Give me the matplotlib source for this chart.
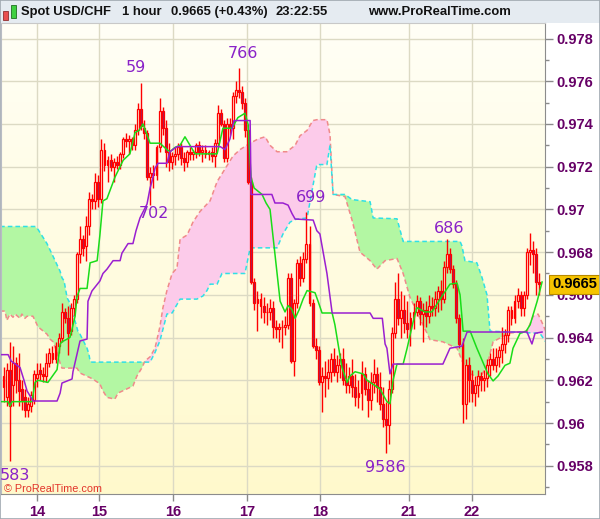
import matplotlib
matplotlib.use('Agg')
import matplotlib.pyplot as plt
import matplotlib.transforms as mtransforms
import numpy as np
from matplotlib.colors import LinearSegmentedColormap
from matplotlib.patches import Rectangle

# Spot USD/CHF, 1 hour -- candles (bar index = hour slot)
OPEN = [0.9617, 0.9612, 0.9625, 0.9618, 0.9628, 0.9620, 0.9616, 0.9612, 0.9606, 0.9608,
        0.9611, 0.9621, 0.9625, 0.9623, 0.9622, 0.9628, 0.9633, 0.9630, 0.9636, 0.9640,
        0.9652, 0.9649, 0.9643, 0.9654, 0.9658, 0.9679, 0.9686, 0.9683, 0.9692, 0.9705,
        0.9704, 0.9713, 0.9705, 0.9728, 0.9721, 0.9723, 0.9720, 0.9722, 0.9721, 0.9726,
        0.9733, 0.9732, 0.9733, 0.9730, 0.9737, 0.9747, 0.9738, 0.9736, 0.9715, 0.9717,
        0.9716, 0.9729, 0.9746, 0.9738, 0.9727, 0.9722, 0.9725, 0.9726, 0.9729, 0.9724,
        0.9722, 0.9727, 0.9726, 0.9727, 0.9730, 0.9727, 0.9728, 0.9726, 0.9727, 0.9725,
        0.9731, 0.9745, 0.9740, 0.9724, 0.9740, 0.9738, 0.9753, 0.9756, 0.9755, 0.9750,
        0.9737, 0.9713, 0.9666, 0.9656, 0.9658, 0.9655, 0.9652, 0.9652, 0.9654, 0.9645,
        0.9644, 0.9645, 0.9645, 0.9646, 0.9668, 0.9629, 0.9656, 0.9675, 0.9668, 0.9677,
        0.9684, 0.9656, 0.9636, 0.9634, 0.9619, 0.9622, 0.9621, 0.9624, 0.9630, 0.9624,
        0.9627, 0.9630, 0.9620, 0.9618, 0.9622, 0.9617, 0.9612, 0.9614, 0.9623, 0.9616,
        0.9611, 0.9619, 0.9623, 0.9617, 0.9609, 0.9602, 0.9599, 0.9616, 0.9642, 0.9658,
        0.9649, 0.9653, 0.9647, 0.9644, 0.9649, 0.9652, 0.9657, 0.9651, 0.9653, 0.9650,
        0.9655, 0.9654, 0.9658, 0.9662, 0.9658, 0.9673, 0.9679, 0.9672, 0.9665, 0.9649,
        0.9637, 0.9609, 0.9627, 0.9620, 0.9614, 0.9618, 0.9622, 0.9620, 0.9621, 0.9627,
        0.9630, 0.9627, 0.9631, 0.9634, 0.9637, 0.9641, 0.9653, 0.9649, 0.9657, 0.9660,
        0.9654, 0.9660, 0.9680, 0.9681, 0.9679, 0.9666]
HIGH = [0.9626, 0.9628, 0.9638, 0.9636, 0.9631, 0.9633, 0.9620, 0.9616, 0.9612, 0.9615,
        0.9625, 0.9628, 0.9628, 0.9626, 0.9633, 0.9635, 0.9636, 0.9638, 0.9642, 0.9656,
        0.9654, 0.9655, 0.9656, 0.9660, 0.9680, 0.9692, 0.9688, 0.9697, 0.9708, 0.9707,
        0.9717, 0.9716, 0.9733, 0.9731, 0.9725, 0.9726, 0.9724, 0.9725, 0.9727, 0.9734,
        0.9736, 0.9735, 0.9734, 0.9740, 0.9750, 0.9759, 0.9742, 0.9737, 0.9720, 0.9721,
        0.9730, 0.9752, 0.9748, 0.9742, 0.9731, 0.9727, 0.9729, 0.9731, 0.9731, 0.9727,
        0.9728, 0.9729, 0.9728, 0.9731, 0.9732, 0.9730, 0.9730, 0.9728, 0.9729, 0.9733,
        0.9749, 0.9747, 0.9742, 0.9743, 0.9743, 0.9755, 0.9760, 0.9766, 0.9758, 0.9752,
        0.9740, 0.9715, 0.9668, 0.9662, 0.9661, 0.9659, 0.9656, 0.9658, 0.9657, 0.9648,
        0.9647, 0.9648, 0.9650, 0.9670, 0.9670, 0.9658, 0.9677, 0.9678, 0.9680, 0.9699,
        0.9692, 0.9658, 0.9640, 0.9636, 0.9626, 0.9629, 0.9630, 0.9633, 0.9635, 0.9632,
        0.9633, 0.9635, 0.9628, 0.9626, 0.9630, 0.9623, 0.9620, 0.9629, 0.9626, 0.9620,
        0.9624, 0.9630, 0.9626, 0.9624, 0.9617, 0.9610, 0.9620, 0.9645, 0.9666, 0.9670,
        0.9662, 0.9660, 0.9657, 0.9652, 0.9656, 0.9660, 0.9659, 0.9656, 0.9657, 0.9660,
        0.9659, 0.9662, 0.9664, 0.9667, 0.9676, 0.9686, 0.9682, 0.9674, 0.9667, 0.9651,
        0.9640, 0.9630, 0.9631, 0.9625, 0.9622, 0.9625, 0.9624, 0.9625, 0.9630, 0.9633,
        0.9635, 0.9635, 0.9636, 0.9645, 0.9644, 0.9655, 0.9655, 0.9660, 0.9663, 0.9662,
        0.9662, 0.9682, 0.9689, 0.9685, 0.9682, 0.9670]
LOW = [0.9610, 0.9608, 0.9582, 0.9608, 0.9614, 0.9608, 0.9606, 0.9603, 0.9603, 0.9605,
       0.9609, 0.9617, 0.9620, 0.9619, 0.9619, 0.9626, 0.9628, 0.9628, 0.9633, 0.9638,
       0.9647, 0.9632, 0.9641, 0.9650, 0.9656, 0.9675, 0.9678, 0.9676, 0.9688, 0.9700,
       0.9700, 0.9701, 0.9703, 0.9718, 0.9713, 0.9718, 0.9713, 0.9719, 0.9719, 0.9724,
       0.9729, 0.9726, 0.9728, 0.9728, 0.9735, 0.9737, 0.9733, 0.9714, 0.9702, 0.9710,
       0.9714, 0.9727, 0.9735, 0.9720, 0.9718, 0.9719, 0.9721, 0.9723, 0.9721, 0.9718,
       0.9720, 0.9723, 0.9723, 0.9724, 0.9725, 0.9722, 0.9724, 0.9723, 0.9722, 0.9720,
       0.9729, 0.9739, 0.9722, 0.9722, 0.9735, 0.9733, 0.9750, 0.9752, 0.9747, 0.9734,
       0.9712, 0.9665, 0.9653, 0.9643, 0.9649, 0.9647, 0.9646, 0.9648, 0.9640, 0.9640,
       0.9638, 0.9635, 0.9641, 0.9644, 0.9628, 0.9622, 0.9654, 0.9664, 0.9666, 0.9675,
       0.9655, 0.9635, 0.9630, 0.9618, 0.9605, 0.9612, 0.9616, 0.9619, 0.9622, 0.9619,
       0.9621, 0.9618, 0.9614, 0.9614, 0.9612, 0.9608, 0.9607, 0.9606, 0.9613, 0.9603,
       0.9606, 0.9614, 0.9610, 0.9606, 0.9598, 0.9586, 0.9590, 0.9614, 0.9640, 0.9646,
       0.9640, 0.9642, 0.9640, 0.9636, 0.9644, 0.9650, 0.9646, 0.9638, 0.9645, 0.9647,
       0.9650, 0.9650, 0.9652, 0.9653, 0.9656, 0.9670, 0.9670, 0.9663, 0.9647, 0.9635,
       0.9600, 0.9602, 0.9610, 0.9610, 0.9608, 0.9612, 0.9615, 0.9615, 0.9617, 0.9622,
       0.9625, 0.9624, 0.9626, 0.9628, 0.9633, 0.9638, 0.9646, 0.9647, 0.9654, 0.9650,
       0.9650, 0.9658, 0.9674, 0.9670, 0.9660, 0.9660]
CLOSE = [0.9622, 0.9625, 0.9608, 0.9628, 0.9620, 0.9615, 0.9611, 0.9606, 0.9609, 0.9613,
         0.9623, 0.9623, 0.9623, 0.9622, 0.9628, 0.9633, 0.9630, 0.9636, 0.9640, 0.9652,
         0.9649, 0.9642, 0.9654, 0.9658, 0.9679, 0.9686, 0.9682, 0.9692, 0.9705, 0.9704,
         0.9713, 0.9705, 0.9728, 0.9721, 0.9723, 0.9720, 0.9722, 0.9721, 0.9726, 0.9733,
         0.9732, 0.9733, 0.9730, 0.9737, 0.9747, 0.9739, 0.9736, 0.9715, 0.9717, 0.9716,
         0.9729, 0.9746, 0.9738, 0.9727, 0.9722, 0.9725, 0.9726, 0.9729, 0.9724, 0.9722,
         0.9727, 0.9726, 0.9727, 0.9730, 0.9727, 0.9728, 0.9726, 0.9727, 0.9725, 0.9731,
         0.9745, 0.9740, 0.9724, 0.9740, 0.9738, 0.9753, 0.9756, 0.9755, 0.9750, 0.9737,
         0.9713, 0.9666, 0.9656, 0.9658, 0.9655, 0.9652, 0.9652, 0.9654, 0.9645, 0.9644,
         0.9645, 0.9645, 0.9646, 0.9668, 0.9629, 0.9656, 0.9675, 0.9668, 0.9677, 0.9684,
         0.9656, 0.9636, 0.9634, 0.9619, 0.9622, 0.9621, 0.9624, 0.9630, 0.9624, 0.9627,
         0.9630, 0.9620, 0.9618, 0.9622, 0.9617, 0.9612, 0.9614, 0.9623, 0.9616, 0.9611,
         0.9619, 0.9623, 0.9617, 0.9609, 0.9602, 0.9599, 0.9616, 0.9642, 0.9658, 0.9649,
         0.9653, 0.9647, 0.9644, 0.9649, 0.9652, 0.9657, 0.9651, 0.9653, 0.9650, 0.9655,
         0.9654, 0.9658, 0.9662, 0.9658, 0.9673, 0.9679, 0.9672, 0.9665, 0.9649, 0.9637,
         0.9609, 0.9627, 0.9620, 0.9614, 0.9618, 0.9622, 0.9620, 0.9621, 0.9627, 0.9630,
         0.9627, 0.9631, 0.9634, 0.9637, 0.9641, 0.9653, 0.9649, 0.9657, 0.9660, 0.9654,
         0.9660, 0.9680, 0.9681, 0.9679, 0.9666, 0.9665]

# Ichimoku lines, vertices (x = bar index)
TENKAN_X = [-1.1, 1.5, 2.1, 2.8, 9.3, 10.3, 11.3, 14.5, 17.5, 18.5, 19.1, 21.7, 22.4, 23.4, 24, 25,
            27.3, 28.3, 30.6, 31.5, 32.5, 33.8, 36.4, 37.4, 39.1, 41.3, 43, 44.3, 45.6, 47.9, 51.1,
            53.4, 54.4, 56, 57.7, 59.3, 62.6, 69.8, 71.7, 74.7, 76.6, 78.9, 79.9, 80.9, 81.9, 84.5,
            85.8, 87.1, 90.4, 92, 93, 94.3, 95.3, 96.6, 97.9, 99.2, 101.8, 102.8, 104.1, 107.4,
            108.3, 110.6, 112.3, 113.2, 114.9, 117.5, 118.8, 123, 125.3, 126.3, 127.3, 128.6, 130.6,
            131.9, 133.8, 135.1, 137.7, 140, 143.6, 145.9, 148.2, 149.2, 150.2, 152.5, 154.7, 158.3,
            160, 161.6, 163.9, 165.5, 166.5, 168.8, 170.8, 172.1, 174.4, 176]
TENKAN_Y = [0.9610, 0.9610, 0.9608, 0.9610, 0.9610, 0.9619, 0.9620, 0.9619, 0.9625, 0.9637, 0.9638,
            0.9640, 0.9644, 0.9650, 0.9659, 0.9663, 0.9663, 0.9675, 0.9676, 0.9688, 0.9704, 0.9705,
            0.9715, 0.9718, 0.9723, 0.9726, 0.9736, 0.9737, 0.9740, 0.9731, 0.9731, 0.9728, 0.9727,
            0.9729, 0.9730, 0.9734, 0.9726, 0.9726, 0.9738, 0.9738, 0.9743, 0.9745, 0.9740, 0.9715,
            0.9710, 0.9707, 0.9703, 0.9700, 0.9657, 0.9652, 0.9655, 0.9653, 0.9649, 0.9653, 0.9658,
            0.9662, 0.9661, 0.9657, 0.96515, 0.96515, 0.9646, 0.9626, 0.9619, 0.9622, 0.9624,
            0.9623, 0.9620, 0.9616, 0.9610, 0.9609, 0.9620, 0.96276, 0.96276, 0.9635, 0.9647,
            0.9654, 0.9652, 0.9652, 0.9660, 0.9665, 0.96655, 0.9660, 0.9643, 0.9643, 0.9635,
            0.9623, 0.96197, 0.9622, 0.9627, 0.9628, 0.9635, 0.9642, 0.9643, 0.9646, 0.9657, 0.9666]
KIJUN_X = [-1.1, 1.5, 2.5, 5.4, 6.7, 7.7, 8.7, 9.6, 17.5, 18.5, 19.1, 22.4, 22.7, 25, 27.3, 27.6,
           28.9, 31.5, 32.5, 33.8, 35.8, 38.1, 38.7, 40.7, 42.3, 43.3, 44.6, 46.9, 47.9, 48.5, 49.5,
           50.5, 53.4, 54.4, 56.7, 70.8, 72.4, 74, 75.3, 80.6, 80.9, 87.7, 88.7, 91.3, 93, 94.3,
           95.3, 101.2, 102.4, 103.4, 105.7, 107.4, 119.8, 120.8, 123.8, 124.7, 125.3, 126.3,
           127.3, 143.6, 145.9, 149.8, 151.5, 171.1, 172.1, 172.7, 173.7, 176]
KIJUN_Y = [0.9632, 0.9632, 0.9629, 0.9626, 0.9620, 0.9615, 0.96126, 0.96103, 0.96103, 0.9614,
           0.96187, 0.96206, 0.9624, 0.96384, 0.96393, 0.9657, 0.96618, 0.96665, 0.9670, 0.9672,
           0.9676, 0.9676, 0.96795, 0.9684, 0.9684, 0.9690, 0.9696, 0.97025, 0.9710, 0.9713,
           0.97193, 0.97216, 0.97216, 0.9727, 0.97294, 0.97294, 0.9728, 0.9733, 0.97416, 0.97416,
           0.9707, 0.9707, 0.9703, 0.9703, 0.9702, 0.9698, 0.96955, 0.9695, 0.9690, 0.96885,
           0.9670, 0.96515, 0.96515, 0.9649, 0.9649, 0.9637, 0.9635, 0.9623, 0.96276, 0.96276,
           0.9635, 0.9636, 0.96426, 0.96426, 0.9639, 0.9637, 0.9642, 0.96426]
SPAN_A_X = [-1.1, 10.3, 11.3, 14.2, 16.2, 18.5, 19.1, 19.8, 20.8, 21.4, 22.4, 23.4, 24.3, 25, 27.3,
            27.9, 28.3, 28.9, 47.9, 49.5, 51.1, 53.4, 55.1, 57.7, 63.2, 65.2, 66.5, 67.5, 69.8,
            71.4, 78.9, 80.6, 89.4, 91.3, 93.6, 95.3, 99.2, 102.4, 105.7, 106.7, 107.7, 111.6,
            113.9, 119.8, 120.8, 128.6, 130.6, 149.2, 149.8, 150.8, 154.7, 156.4, 158, 159, 175.3,
            177.2]
SPAN_A_Y = [0.9692, 0.9692, 0.96906, 0.9684, 0.9678, 0.9671, 0.9668, 0.96665, 0.96585, 0.9657,
            0.9651, 0.96477, 0.9643, 0.96416, 0.9635, 0.96323, 0.9629, 0.96285, 0.96285, 0.9633,
            0.96384, 0.9651, 0.96515, 0.9658, 0.9658, 0.96595, 0.9662, 0.9665, 0.9665, 0.9670,
            0.9670, 0.9682, 0.9682, 0.96884, 0.9694, 0.96953, 0.9696, 0.9721, 0.9721, 0.9730,
            0.9707, 0.9707, 0.97046, 0.97036, 0.9696, 0.96956, 0.9685, 0.9685, 0.9683, 0.9676,
            0.9675, 0.9668, 0.9660, 0.9643, 0.9642, 0.9638]
SPAN_B_X = [-1.1, 0.5, 1.1, 2.1, 3.1, 3.8, 5.4, 6, 7, 7.7, 9.6, 10.3, 11.3, 14.2, 15.2, 16.2, 17.5,
            18.5, 19.1, 24, 25, 29.2, 31.5, 32.5, 33.8, 36.4, 37.4, 42.3, 43.6, 45.3, 46.2, 47.9,
            49.5, 51.1, 52.1, 53.4, 55.1, 56.7, 57.7, 60, 61.9, 64.2, 67.5, 69.8, 72.4, 75, 77.3,
            80.6, 83.2, 85.5, 87.1, 89.4, 92.6, 95.3, 96.9, 99.2, 101.1, 102.4, 105.7, 106.7,
            107.7, 111.6, 113.9, 116.5, 119.8, 122, 124.7, 128.6, 130.6, 132.8, 135.1, 139.4,
            143.6, 148.2, 150.2, 152.5, 155.7, 158, 160, 164.9, 171.1, 173.1, 174.7, 176, 177.2]
SPAN_B_Y = [0.96524, 0.96524, 0.9648, 0.9651, 0.96495, 0.9651, 0.9649, 0.9651, 0.9649, 0.9650,
            0.9650, 0.9648, 0.9645, 0.96416, 0.96393, 0.9638, 0.9633, 0.9628, 0.96257, 0.96257,
            0.96234, 0.96206, 0.96183, 0.9615, 0.9612, 0.96112, 0.9614, 0.96173, 0.9622, 0.9626,
            0.9629, 0.9631, 0.9635, 0.9645, 0.9654, 0.9662, 0.9670, 0.96726, 0.9686, 0.9688,
            0.9694, 0.9699, 0.9704, 0.9713, 0.9719, 0.9725, 0.9728, 0.9731, 0.9733, 0.9734,
            0.9730, 0.9727, 0.9727, 0.9730, 0.97345, 0.9737, 0.97416, 0.9742, 0.9742, 0.9735,
            0.9707, 0.9706, 0.9695, 0.9680, 0.9676, 0.9672, 0.9676, 0.9677, 0.9670, 0.9659,
            0.9652, 0.9639, 0.9638, 0.9635, 0.9628, 0.9623, 0.9621, 0.9627, 0.9638, 0.9642,
            0.9643, 0.9650, 0.9651, 0.9647, 0.9643]

DAY_POS = [10.95, 31.2, 55.4, 79.6, 103.4, 132.5, 153.1]
DAY_LABELS = ['14', '15', '16', '17', '18', '21', '22']
PRICE_TICKS = [0.958, 0.960, 0.962, 0.964, 0.966, 0.968, 0.970, 0.972, 0.974, 0.976, 0.978]
PRICE_LABELS = ['0.958', '0.96', '0.962', '0.964', '0.966', '0.968', '0.97', '0.972', '0.974',
                '0.976', '0.978']
MINOR_TICKS = [0.957, 0.959, 0.961, 0.963, 0.965, 0.967, 0.969, 0.971, 0.973, 0.975, 0.977]

# extreme-point labels: bar, high/low, text, offset in pixels
EXTREMES = [(2, 'low', '583', 5, -7), (45, 'high', '59', -5, 8), (48, 'low', '702', 4, -1),
            (77, 'high', '766', 4, 7), (99, 'high', '699', 5, 7), (125, 'low', '9586', -1, -7),
            (145, 'high', '686', 2, 3)]

HEADER = [('Spot USD/CHF', 21), ('1 hour', 122), ('0.9665 (+0.43%)', 171), ('23:22:55', 276)]
SITE = 'www.ProRealTime.com'

AXIS_PURPLE = '#660066'
LABEL_PURPLE = '#8a22c8'
GREEN_FILL = '#b3f7a3'
PINK_FILL = '#fccbea'
CYAN = '#2fe0e6'
SALMON = '#f08a8a'
TENKAN_COLOR = '#19dd19'
KIJUN_COLOR = '#9a1fd0'
DOWN_FILL = '#9b1f63'
UP_FILL = '#fffbe2'

FIG_W, FIG_H = 600, 519
plt.rcParams['font.family'] = ['Liberation Sans', 'DejaVu Sans']

fig = plt.figure(figsize=(FIG_W / 100, FIG_H / 100), dpi=100)
fig.patch.set_facecolor('white')
ax = fig.add_axes([1 / FIG_W, (FIG_H - 494) / FIG_H, 544 / FIG_W, 471 / FIG_H])
XLIM = (-0.82, 176.96)
YLIM = (0.956676, 0.978727)

# background gradient (cream at top, light yellow at bottom)
bg = LinearSegmentedColormap.from_list('bg', ['#fffff6', '#fff9cc'])
ax.imshow(np.linspace(0, 1, 256).reshape(-1, 1), cmap=bg, aspect='auto',
          extent=[XLIM[0], XLIM[1], YLIM[0], YLIM[1]], zorder=-2)

# cloud
grid = np.linspace(-1.2, 177.2, 4000)
a = np.interp(grid, SPAN_A_X, SPAN_A_Y)
b = np.interp(grid, SPAN_B_X, SPAN_B_Y)
ax.fill_between(grid, a, b, where=a >= b, interpolate=True, color=GREEN_FILL, lw=0, zorder=1)
ax.fill_between(grid, a, b, where=a < b, interpolate=True, color=PINK_FILL, lw=0, zorder=1)
ax.plot(SPAN_B_X, SPAN_B_Y, color=SALMON, lw=1.1, ls=(0, (3, 2)), zorder=2)
ax.plot(SPAN_A_X, SPAN_A_Y, color=CYAN, lw=1.1, ls=(0, (3, 2)), zorder=2)

# candles
x = np.arange(len(CLOSE))
o, h, l, c = (np.array(v) for v in (OPEN, HIGH, LOW, CLOSE))
up = c >= o
ax.vlines(x, l, h, color='#ff0000', lw=1, zorder=3)
ax.bar(x[up], (c - o)[up], bottom=o[up], width=0.62, facecolor=UP_FILL,
       edgecolor='#ff0000', lw=0.9, zorder=4)
ax.bar(x[~up], (o - c)[~up], bottom=c[~up], width=0.62, facecolor=DOWN_FILL,
       edgecolor='#ff0000', lw=0.9, zorder=4)

ax.plot(TENKAN_X, TENKAN_Y, color=TENKAN_COLOR, lw=1.1, zorder=5)
ax.plot(KIJUN_X, KIJUN_Y, color=KIJUN_COLOR, lw=1.1, zorder=5)

for i, kind, txt, dx, dy in EXTREMES:
    yv = HIGH[i] if kind == 'high' else LOW[i]
    ax.annotate(txt, (i, yv), xytext=(dx, dy), textcoords='offset pixels', ha='center',
                va='bottom' if kind == 'high' else 'top', color=LABEL_PURPLE, fontsize=11.5,
                family='DejaVu Sans', zorder=6)

ax.set_xlim(*XLIM)
ax.set_ylim(*YLIM)

# axes styling
ax.yaxis.tick_right()
ax.set_yticks(PRICE_TICKS, PRICE_LABELS)
ax.set_yticks(MINOR_TICKS, minor=True)
ax.set_xticks(DAY_POS, DAY_LABELS)
ax.tick_params(axis='y', which='major', length=6, width=1, color='#8a8a8a', pad=2,
               labelcolor=AXIS_PURPLE, labelsize=10.5)
ax.tick_params(axis='y', which='minor', length=3, width=1, color='#8a8a8a')
ax.tick_params(axis='x', which='major', length=5, width=1, color='#8a8a8a', pad=3,
               labelcolor=AXIS_PURPLE, labelsize=10.5)
for lab in ax.get_yticklabels() + ax.get_xticklabels():
    lab.set_fontweight('bold')
ax.set_axisbelow(True)
ax.grid(which='major', color='#dcdac4', lw=1)
for side, col in (('left', '#b8bcc4'), ('top', '#c8c8c8'), ('right', '#8c8c8c'), ('bottom', '#8c8c8c')):
    ax.spines[side].set_color(col)

# last price box on the price axis
trans = mtransforms.blended_transform_factory(ax.transAxes, ax.transData)
ax.text(1.013, CLOSE[-1], f'{CLOSE[-1]:.4f}', transform=trans, ha='left', va='center',
        fontsize=10.5, fontweight='bold', color='black', clip_on=False, zorder=10,
        bbox=dict(boxstyle='square,pad=0.18', fc='#f6c400', ec='#b88a00', lw=0.8))

ax.text(0.005, 0.001, '\u00a9 ProRealTime.com', transform=ax.transAxes, color='#e2342a',
        fontsize=7.8, ha='left', va='bottom', zorder=7)

# header bar
fig.add_artist(Rectangle((0, 1 - 23 / FIG_H), 1, 23 / FIG_H, transform=fig.transFigure,
                         fc='#e5ebf1', ec='none', zorder=0))
for txt, xp in HEADER:
    fig.text(xp / FIG_W, 1 - 12 / FIG_H, txt, ha='left', va='center', fontsize=9.4,
             fontweight='bold', color='#111111')
fig.text(511 / FIG_W, 1 - 12 / FIG_H, SITE, ha='right', va='center', fontsize=9.4,
         fontweight='bold', color='#111111')
# small candle icon
fig.add_artist(Rectangle((3 / FIG_W, 1 - 20 / FIG_H), 5 / FIG_W, 9 / FIG_H,
                         transform=fig.transFigure, fc='#e85050', ec='#903030', lw=0.6))
fig.add_artist(Rectangle((11 / FIG_W, 1 - 18 / FIG_H), 5 / FIG_W, 13 / FIG_H,
                         transform=fig.transFigure, fc='#40d040', ec='#207020', lw=0.6))
fig.add_artist(Rectangle((0, 0), 1, 1, transform=fig.transFigure, fc='none',
                         ec='#a0a8b0', lw=1.2))

fig.savefig('out.png', dpi=100)
